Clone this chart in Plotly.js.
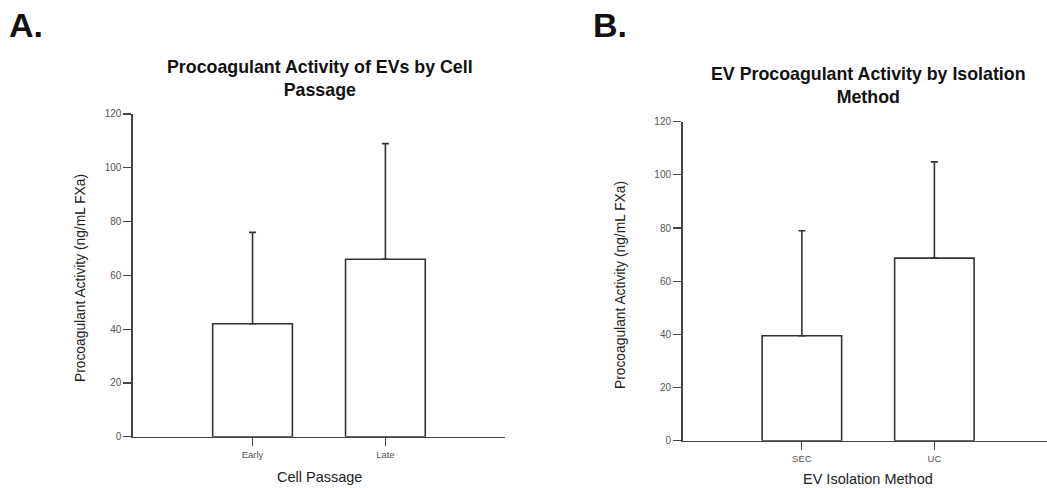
<!DOCTYPE html>
<html>
<head>
<meta charset="utf-8">
<script src="https://cdn.plot.ly/plotly-3.0.1.min.js"></script>
<style>html,body{margin:0;padding:0;background:#fff;}#chart{width:1047px;height:488px;}</style>
</head>
<body>
<div id="chart"></div>
<script>
// Panel A data
const passageCategories = ["Early", "Late"];
const passageMeans = [42, 66];
const passageErrors = [34, 43];
// Panel B data
const methodCategories = ["SEC", "UC"];
const methodMeans = [39.5, 68.7];
const methodErrors = [39.5, 36.2];
const yTicks = [0, 20, 40, 60, 80, 100, 120];

const ink = "#333333";
const barStyle = {color: "#ffffff", line: {color: ink, width: 1.6}};
function errStyle(arr) {
  return {type: "data", symmetric: false, array: arr, arrayminus: arr.map(() => 0),
          color: ink, thickness: 1.6, width: 3.5};
}

const traces = [
  {type: "bar", x: passageCategories, y: passageMeans, xaxis: "x", yaxis: "y",
   width: 0.6, marker: barStyle, error_y: errStyle(passageErrors), hoverinfo: "none"},
  {type: "bar", x: methodCategories, y: methodMeans, xaxis: "x2", yaxis: "y2",
   width: 0.6, marker: barStyle, error_y: errStyle(methodErrors), hoverinfo: "none"}
];

const font = "Liberation Sans, Arial, sans-serif";
const axisCommon = {
  showgrid: false, zeroline: false, showline: true, linecolor: "#444", linewidth: 1.6,
  ticks: "outside", ticklen: 8, tickwidth: 1.2, tickcolor: "#444",
  tickfont: {family: font, size: 9.5, color: "#555"}, fixedrange: true
};

const layout = {
  width: 1047, height: 488,
  margin: {l: 0, r: 0, t: 0, b: 0},
  paper_bgcolor: "#fff", plot_bgcolor: "#fff",
  showlegend: false,
  font: {family: font},
  xaxis: Object.assign({}, axisCommon, {domain: [0.127, 0.4823], range: [-0.9, 1.9], type: "category", anchor: "y"}),
  yaxis: Object.assign({}, axisCommon, {domain: [0.1051, 0.7664], range: [0, 120], tickvals: yTicks, anchor: "x",
    tickfont: {family: font, size: 10, color: "#555"}}),
  xaxis2: Object.assign({}, axisCommon, {domain: [0.652, 1.0], range: [-0.9, 1.85], type: "category", anchor: "y2"}),
  yaxis2: Object.assign({}, axisCommon, {domain: [0.0969, 0.7506], range: [0, 120], tickvals: yTicks, anchor: "x2",
    tickfont: {family: font, size: 10, color: "#555"}}),
  annotations: [
    {text: "<b>A.</b>", xref: "paper", yref: "paper", x: 7/1047, y: 1 - 4/488, xanchor: "left", yanchor: "top",
     showarrow: false, font: {family: font, size: 34, color: "#111"}},
    {text: "<b>B.</b>", xref: "paper", yref: "paper", x: 591/1047, y: 1 - 4/488, xanchor: "left", yanchor: "top",
     showarrow: false, font: {family: font, size: 34, color: "#111"}},
    {text: "<b>Procoagulant Activity of EVs by Cell<br>Passage</b>", xref: "paper", yref: "paper",
     x: 320/1047, y: 1 - 78/488, xanchor: "center", yanchor: "middle", showarrow: false,
     font: {family: font, size: 17.8, color: "#111"}},
    {text: "<b>EV Procoagulant Activity by Isolation<br>Method</b>", xref: "paper", yref: "paper",
     x: 868/1047, y: 1 - 85/488, xanchor: "center", yanchor: "middle", showarrow: false,
     font: {family: font, size: 17.8, color: "#111"}},
    {text: "Cell Passage", xref: "paper", yref: "paper", x: 319/1047, y: 1 - 477/488,
     xanchor: "center", yanchor: "middle", showarrow: false, font: {family: font, size: 14.5, color: "#222"}},
    {text: "EV Isolation Method", xref: "paper", yref: "paper", x: 868/1047, y: 1 - 479/488,
     xanchor: "center", yanchor: "middle", showarrow: false, font: {family: font, size: 14.5, color: "#222"}},
    {text: "Procoagulant Activity (ng/mL FXa)", xref: "paper", yref: "paper", x: 80/1047, y: 1 - 278/488,
     xanchor: "center", yanchor: "middle", textangle: -90, showarrow: false, font: {family: font, size: 13.8, color: "#222"}},
    {text: "Procoagulant Activity (ng/mL FXa)", xref: "paper", yref: "paper", x: 620/1047, y: 1 - 285/488,
     xanchor: "center", yanchor: "middle", textangle: -90, showarrow: false, font: {family: font, size: 13.8, color: "#222"}}
  ]
};

Plotly.newPlot("chart", traces, layout, {staticPlot: true, displayModeBar: false});
</script>
</body>
</html>
